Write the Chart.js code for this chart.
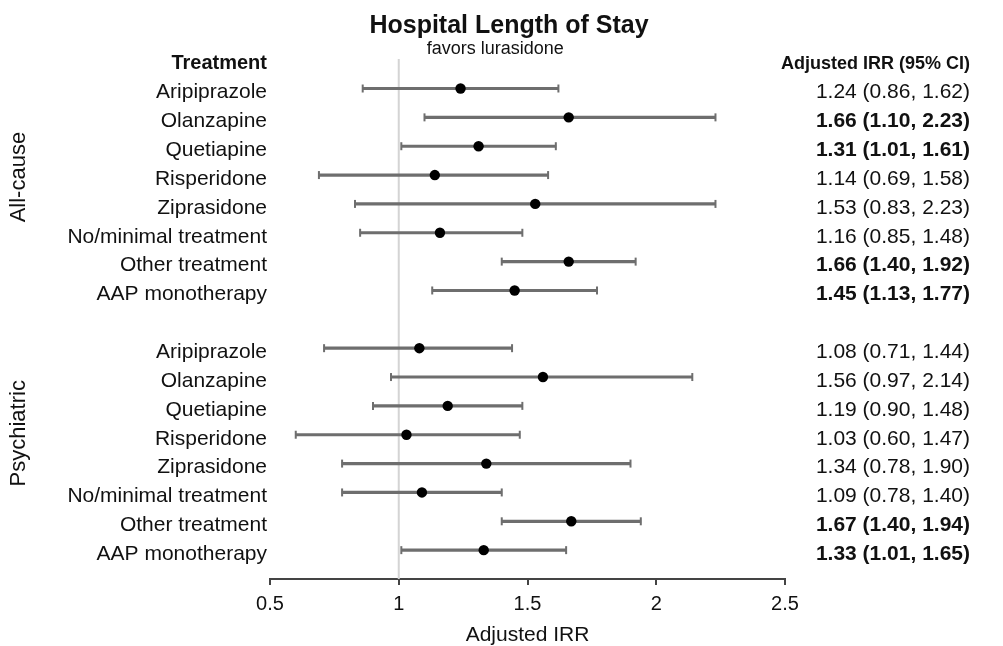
<!DOCTYPE html>
<html>
<head>
<meta charset="utf-8">
<title>Hospital Length of Stay</title>
<script src="https://cdn.jsdelivr.net/npm/chart.js@4/dist/chart.umd.min.js"></script>
<style>
  body { margin: 0; background: #fff; }
  canvas { display: block; }
</style>
</head>
<body>
<canvas id="chart" width="1003" height="646"></canvas>
<script>
// data
const groups = ['All-cause', 'Psychiatric'];
const treatments = [
  'Aripiprazole', 'Olanzapine', 'Quetiapine', 'Risperidone',
  'Ziprasidone', 'No/minimal treatment', 'Other treatment', 'AAP monotherapy'
];
const allCauseIRR  = [1.24, 1.66, 1.31, 1.14, 1.53, 1.16, 1.66, 1.45];
const allCauseLow  = [0.86, 1.10, 1.01, 0.69, 0.83, 0.85, 1.40, 1.13];
const allCauseHigh = [1.62, 2.23, 1.61, 1.58, 2.23, 1.48, 1.92, 1.77];
const psychIRR  = [1.08, 1.56, 1.19, 1.03, 1.34, 1.09, 1.67, 1.33];
const psychLow  = [0.71, 0.97, 0.90, 0.60, 0.78, 0.78, 1.40, 1.01];
const psychHigh = [1.44, 2.14, 1.48, 1.47, 1.90, 1.40, 1.94, 1.65];
const allCauseBold = [false, true, true, false, false, false, true, true];
const psychBold    = [false, false, false, false, false, false, true, true];
const xTicks = [0.5, 1, 1.5, 2, 2.5];

const FONT = "'Liberation Sans', Arial, sans-serif";
const INK = '#111';
const BAR = '#6e6e6e';

// one slot per treatment, one empty slot between the two groups
const rows = [];
[[allCauseIRR, allCauseLow, allCauseHigh, allCauseBold],
 [psychIRR, psychLow, psychHigh, psychBold]].forEach(function (g, gi) {
  treatments.forEach(function (name, i) {
    rows.push({
      pos: gi * 9 + i, name: name,
      irr: g[0][i], lo: g[1][i], hi: g[2][i], bold: g[3][i]
    });
  });
});

const fmt = v => v.toFixed(2);
const leftLabels = { '-1': 'Treatment' };
const rightLabels = {};
const rightBold = {};
rows.forEach(function (r) {
  leftLabels[r.pos] = r.name;
  rightLabels[r.pos] = fmt(r.irr) + ' (' + fmt(r.lo) + ', ' + fmt(r.hi) + ')';
  rightBold[r.pos] = r.bold;
});
const leftTickRows = [-1].concat(rows.map(r => r.pos));
const rightTickRows = rows.map(r => r.pos);

const groupCenters = [3.07, 11.95];

const sideText = {
  id: 'sideText',
  afterDraw(chart) {
    const ctx = chart.ctx;
    const x = chart.scales.x, y = chart.scales.y;
    ctx.save();
    ctx.fillStyle = INK;
    ctx.textBaseline = 'middle';

    ctx.font = '18px ' + FONT;
    ctx.textAlign = 'left';
    ctx.fillText('favors lurasidone', x.getPixelForValue(1) + 28, y.getPixelForValue(-1.5) + 4);

    ctx.font = 'bold 18px ' + FONT;
    ctx.textAlign = 'right';
    ctx.fillText('Adjusted IRR (95% CI)', chart.scales.y2.right, y.getPixelForValue(-1) + 4);

    ctx.font = '22px ' + FONT;
    ctx.textAlign = 'center';
    groups.forEach(function (g, i) {
      ctx.save();
      ctx.translate(19, y.getPixelForValue(groupCenters[i]));
      ctx.rotate(-Math.PI / 2);
      ctx.fillText(g, 0, 0);
      ctx.restore();
    });
    ctx.restore();
  }
};

const yCommon = {
  type: 'linear',
  reverse: true,
  offset: false,
  min: -1.3,
  max: 17,
  grid: { display: false, drawTicks: false, offset: false },
  border: { display: false }
};

new Chart(document.getElementById('chart'), {
  type: 'scatter',
  data: {
    datasets: [
      {
        type: 'line',
        data: [{ x: 1, y: -1.02 }, { x: 1, y: 17 }],
        borderColor: '#d4d4d4',
        borderWidth: 2,
        pointRadius: 0,
        order: 4
      },
      {
        type: 'bar',
        indexAxis: 'y',
        data: rows.map(r => ({ x: [r.lo, r.hi], y: r.pos })),
        backgroundColor: BAR,
        barThickness: 2.5,
        order: 3
      },
      {
        data: rows.map(r => ({ x: r.lo, y: r.pos }))
          .concat(rows.map(r => ({ x: r.hi, y: r.pos }))),
        pointStyle: 'line',
        rotation: 90,
        radius: 4,
        borderColor: BAR,
        borderWidth: 2,
        order: 2
      },
      {
        data: rows.map(r => ({ x: r.irr, y: r.pos })),
        pointStyle: 'circle',
        radius: 5.2,
        backgroundColor: '#000',
        borderWidth: 0,
        order: 1
      }
    ]
  },
  options: {
    responsive: false,
    devicePixelRatio: 1,
    animation: false,
    layout: { padding: { left: 48, right: 33, top: 0, bottom: 0 } },
    plugins: {
      legend: { display: false },
      tooltip: { enabled: false },
      title: {
        display: true,
        text: 'Hospital Length of Stay',
        color: INK,
        font: { family: FONT, size: 25, weight: 'bold' },
        padding: { top: 11, bottom: 10 }
      }
    },
    scales: {
      x: {
        type: 'linear',
        offset: false,
        min: 0.5,
        max: 2.5,
        afterBuildTicks(scale) {
          scale.ticks = xTicks.map(v => ({ value: v }));
        },
        ticks: {
          color: INK,
          padding: 9,
          font: { family: FONT, size: 20, lineHeight: 1 },
          callback: v => String(v)
        },
        grid: { drawOnChartArea: false, offset: false, color: '#444', lineWidth: 2, tickLength: 6 },
        border: { color: '#444', width: 2 },
        title: {
          display: true,
          text: 'Adjusted IRR',
          color: INK,
          font: { family: FONT, size: 21, lineHeight: 1 },
          padding: { top: 2, bottom: 0 }
        }
      },
      y: Object.assign({}, yCommon, {
        position: 'left',
        afterBuildTicks(scale) {
          scale.ticks = leftTickRows.map(v => ({ value: v }));
        },
        afterFit(scale) { scale.width = 222; },
        ticks: {
          color: INK,
          padding: 3,
          labelOffset: 4,
          font: ctx => ctx.tick && ctx.tick.value === -1
            ? { family: FONT, size: 20, weight: 'bold' }
            : { family: FONT, size: 21 },
          callback: v => leftLabels[v] || ''
        }
      }),
      y2: Object.assign({}, yCommon, {
        position: 'right',
        afterBuildTicks(scale) {
          scale.ticks = rightTickRows.map(v => ({ value: v }));
        },
        afterFit(scale) { scale.width = 185; },
        ticks: {
          color: INK,
          padding: 0,
          crossAlign: 'far',
          labelOffset: 4,
          font: ctx => ctx.tick && rightBold[ctx.tick.value]
            ? { family: FONT, size: 21, weight: 'bold' }
            : { family: FONT, size: 21 },
          callback: v => rightLabels[v] || ''
        }
      })
    }
  },
  plugins: [sideText]
});
</script>
</body>
</html>
